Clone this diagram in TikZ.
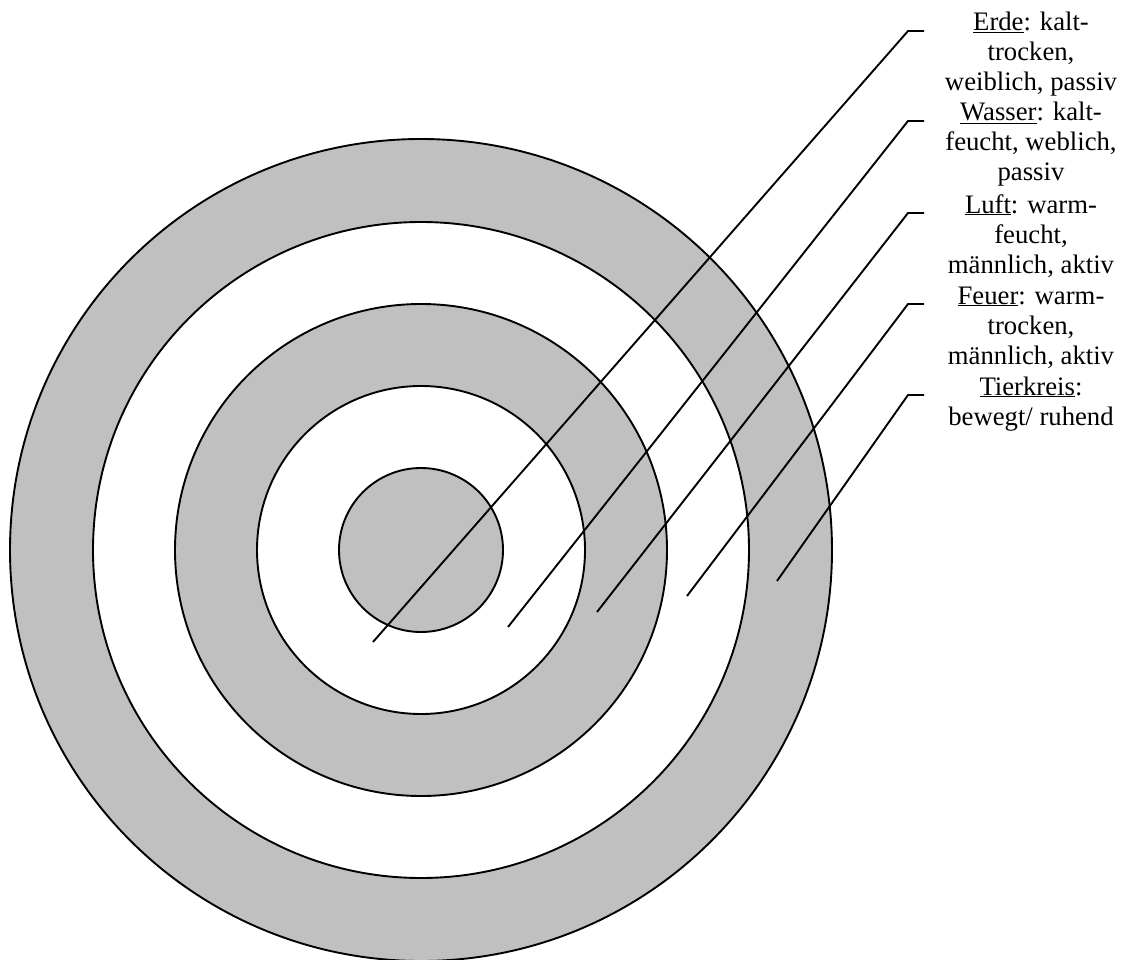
\documentclass[tikz,border=0pt]{standalone}
\usepackage{fontspec}
\setmainfont{Liberation Serif}
\usetikzlibrary{positioning}
\definecolor{ringgray}{RGB}{192,192,192}

\begin{document}
\begin{tikzpicture}[
    x=1pt, y=-1pt,
    ring/.style={draw, line width=1.9pt},
    leader/.style={line width=1.9pt},
    elemtext/.style={align=center, inner sep=0pt, anchor=base, font=\fontsize{26.7}{30}\selectfont}
]
    \useasboundingbox (0,0) rectangle (1122,960);

    % Rings (outside in)
    \coordinate (centre) at (421,550);
    \foreach \r/\c in {411/ringgray, 328/white, 246/ringgray, 164/white, 82/ringgray}
        \draw[ring, fill=\c] (centre) circle (\r);

    % Labels (base = last line)
    \node[elemtext] (erde) at (1031,91) {\underline{Erde}: kalt-\\trocken,\\weiblich, passiv};
    \node[elemtext] (wasser) at (1031,181) {\underline{Wasser}: kalt-\\feucht, weblich,\\passiv};
    \node[elemtext] (luft) at (1031,273) {\underline{Luft}: warm-\\feucht,\\männlich, aktiv};
    \node[elemtext] (feuer) at (1031,364) {\underline{Feuer}: warm-\\trocken,\\männlich, aktiv};
    \node[elemtext] (tierkreis) at (1031,425) {\underline{Tierkreis}:\\bewegt/ ruhend};

    % Leader lines
    \foreach \n/\x/\y/\k in {erde/373/642/31, wasser/508/627/121, luft/597/612/213,
                             feuer/687/596/304, tierkreis/777/581/395} {
        \coordinate (\n-in) at (\x,\y);
        \coordinate (\n-knee) at (908,\k);
        \coordinate (\n-tip) at (924,\k);
        \draw[leader] (\n-in) -- (\n-knee) -- (\n-tip);
    }
\end{tikzpicture}
\end{document}
